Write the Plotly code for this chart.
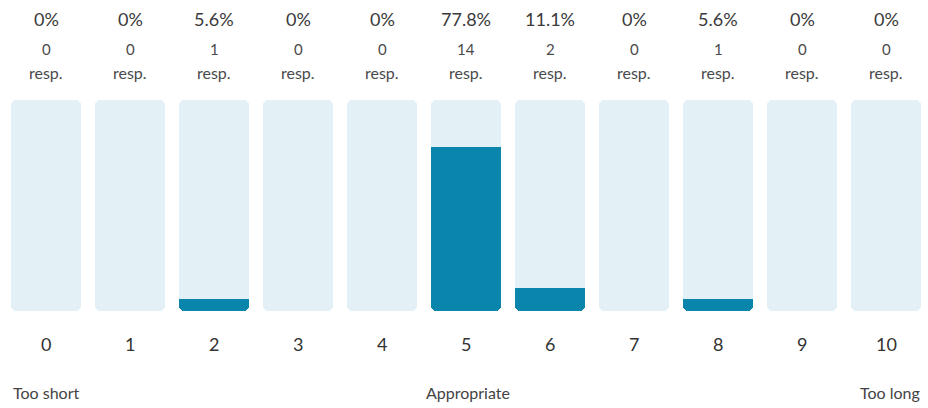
import plotly.graph_objects as go

scores = list(range(11))
percents = [0, 0, 5.6, 0, 0, 77.8, 11.1, 0, 5.6, 0, 0]
pct_labels = ["0%", "0%", "5.6%", "0%", "0%", "77.8%", "11.1%", "0%", "5.6%", "0%", "0%"]
responses = [0, 0, 1, 0, 0, 14, 2, 0, 1, 0, 0]
full = [100] * 11
scale_labels = ["Too short", "Appropriate", "Too long"]

BG = "#e3f0f5"
FG = "#0a86ad"
FONT = "Lato, 'Source Sans Pro', 'Noto Sans', sans-serif"

fig = go.Figure()
# background track (explicit base -> drawn overlay, both ends rounded)
fig.add_trace(go.Bar(x=scores, y=full, base=[0] * 11,
                     marker=dict(color=BG, line=dict(width=0)),
                     hoverinfo="skip"))
# value bars on a hidden reversed axis (zero at the top): an invisible spacer
# stacked with the value segment, so only the bar's bottom end is rounded
fig.add_trace(go.Bar(x=scores, y=[f - p for f, p in zip(full, percents)], yaxis="y2",
                     marker=dict(color="rgba(0,0,0,0)", line=dict(width=0)),
                     hoverinfo="skip"))
fig.add_trace(go.Bar(x=scores, y=percents, yaxis="y2",
                     marker=dict(color=FG, line=dict(width=0)),
                     hovertemplate="%{x}: %{y}%<extra></extra>"))

ann = []
for s, pl, r in zip(scores, pct_labels, responses):
    ann.append(dict(x=s, y=1, xref="x", yref="paper", yshift=81, text=pl,
                    showarrow=False, yanchor="middle",
                    font=dict(family=FONT, size=18, color="#3a3a3a")))
    ann.append(dict(x=s, y=1, xref="x", yref="paper", yshift=51, text=str(r),
                    showarrow=False, yanchor="middle",
                    font=dict(family=FONT, size=15, color="#4a4a4a")))
    ann.append(dict(x=s, y=1, xref="x", yref="paper", yshift=28, text="resp.",
                    showarrow=False, yanchor="middle",
                    font=dict(family=FONT, size=16, color="#4a4a4a")))
    ann.append(dict(x=s, y=0, xref="x", yref="paper", yshift=-33, text=str(s),
                    showarrow=False, yanchor="middle",
                    font=dict(family=FONT, size=18, color="#333333")))

ann.append(dict(x=-0.5, y=0, xref="x", yref="paper", xshift=7, yshift=-81,
                text=scale_labels[0], showarrow=False, xanchor="left", yanchor="middle",
                font=dict(family=FONT, size=16, color="#444444")))
ann.append(dict(x=5, y=0, xref="x", yref="paper", xshift=2, yshift=-81,
                text=scale_labels[1], showarrow=False, xanchor="center", yanchor="middle",
                font=dict(family=FONT, size=16, color="#444444")))
ann.append(dict(x=10.5, y=0, xref="x", yref="paper", xshift=-6, yshift=-81,
                text=scale_labels[2], showarrow=False, xanchor="right", yanchor="middle",
                font=dict(family=FONT, size=16, color="#444444")))

hidden = dict(showticklabels=False, showgrid=False, zeroline=False,
              showline=False, ticks="", fixedrange=True)

fig.update_layout(
    width=928, height=408,
    margin=dict(l=4, r=0, t=100, b=97),
    barmode="stack", bargap=0.155, barcornerradius=6,
    showlegend=False,
    plot_bgcolor="white", paper_bgcolor="white",
    xaxis=dict(range=[-0.5, 10.5], **hidden),
    yaxis=dict(range=[0, 100], **hidden),
    yaxis2=dict(range=[100, 0], overlaying="y", **hidden),
    annotations=ann,
)

fig.write_html("out.html", config={"displayModeBar": False},
               post_script="document.body.style.margin='0';")
